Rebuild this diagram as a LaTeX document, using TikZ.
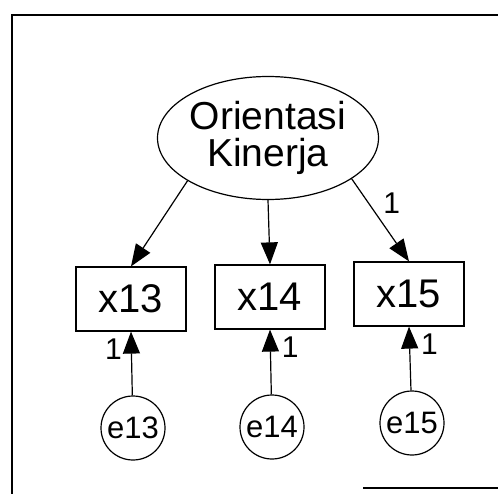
\documentclass[tikz,border=0pt]{standalone}
\usepackage{fontspec}
\setmainfont{Liberation Sans}
\usetikzlibrary{shapes.geometric,arrows.meta}
\begin{document}
\begin{tikzpicture}[x=1pt,y=-1pt,
  latent/.style={draw,ellipse,line width=1.2pt,minimum width=221pt,minimum height=123pt,inner sep=0pt,align=center,
    font=\fontsize{39}{37}\selectfont},
  observed/.style={draw,rectangle,line width=1.2pt,minimum width=110pt,minimum height=64pt,inner sep=0pt,
    font=\fontsize{40}{40}\selectfont},
  errnode/.style={draw,circle,line width=1.2pt,minimum size=64pt,inner sep=0pt,
    font=\fontsize{31}{31}\selectfont},
  path/.style={line width=1.2pt,-{Triangle[length=22pt,width=17pt]}},
  weight/.style={font=\fontsize{30}{30}\selectfont,inner sep=0pt}]
\useasboundingbox (0,0) rectangle (498,494);
% outer frame (open on the right)
\draw[line width=1.6pt] (12,494) -- (12,15) -- (498,15);
\draw[line width=1.6pt] (363,488) -- (498,488);
% latent factor
\node[latent] (ok) at (268,138) {Orientasi\\Kinerja};
% indicators
\node[observed] (x13) at (131,299) {x13};
\node[observed] (x14) at (270,297) {x14};
\node[observed] (x15) at (409,294) {x15};
% error terms
\node[errnode] (e13) at (133,428) {e13};
\node[errnode] (e14) at (272,427) {e14};
\node[errnode] (e15) at (412,423) {e15};
% loadings
\draw[path] (ok.-152) -- (x13.north);
\draw[path] (ok.south) -- (x14.north);
\draw[path] (ok.-26) -- (x15.north) node[weight,pos=0.3,right=14pt] {1};
% error paths
\draw[path] (e13) -- (x13.south) node[weight,pos=0.73,left=9pt] {1};
\draw[path] (e14) -- (x14.south) node[weight,pos=0.73,right=11pt] {1};
\draw[path] (e15) -- (x15.south) node[weight,pos=0.73,right=11pt] {1};
\end{tikzpicture}
\end{document}
